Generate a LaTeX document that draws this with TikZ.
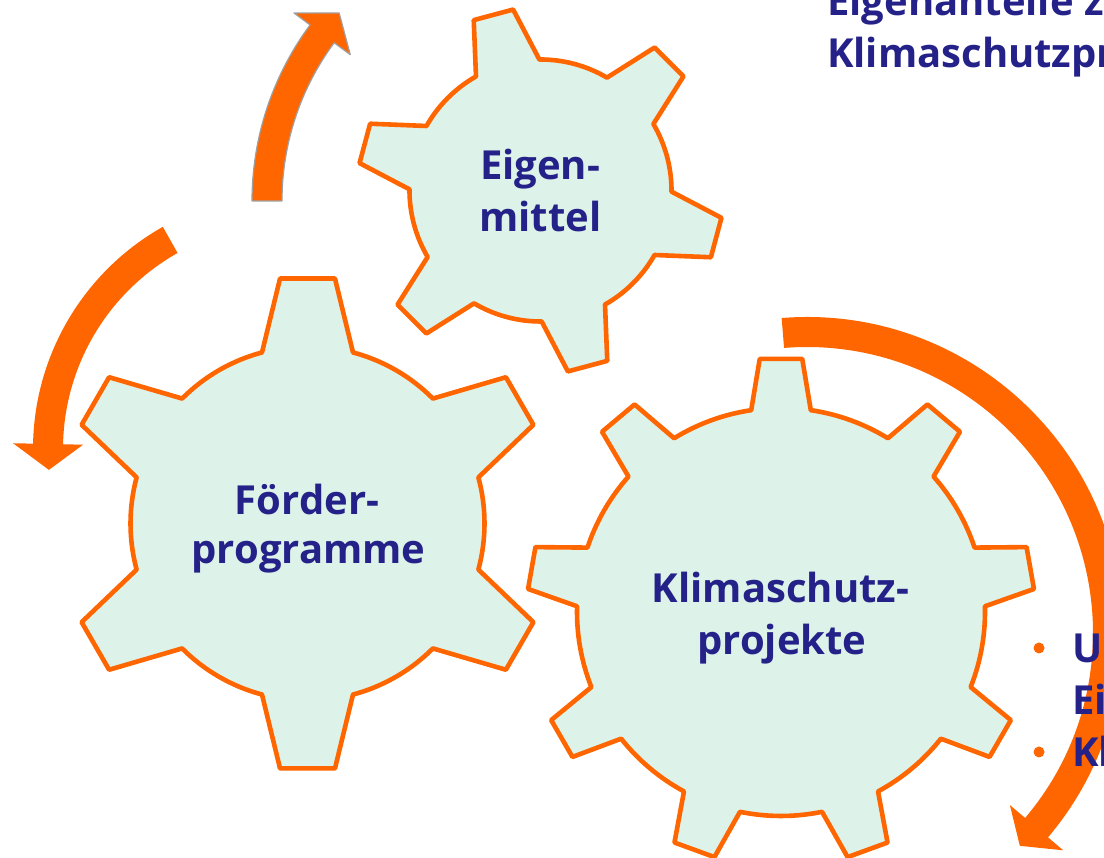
\documentclass[tikz,border=0pt]{standalone}
\usepackage{fontspec}
\setmainfont{Open Sans}
\definecolor{gearorange}{RGB}{255,102,0}
\definecolor{gearfill}{RGB}{221,242,232}
\definecolor{textblue}{RGB}{36,33,137}
\definecolor{arrowedge}{RGB}{160,160,160}
\newcommand{\mygear}[8]{%
  \begin{scope}[shift={(#1,#2)}]
  \pgfmathsetmacro\gstep{360/#3}
  \draw[gearshape] ({#4-#7}:#5)
    \foreach \k in {1,...,#3}{
      -- ({#4+(\k-1)*\gstep-#8}:#6) -- ({#4+(\k-1)*\gstep+#8}:#6)
      -- ({#4+(\k-1)*\gstep+#7}:#5)
      arc[start angle={#4+(\k-1)*\gstep+#7}, end angle={#4+\k*\gstep-#7}, radius=#5]
    } -- cycle;
  \end{scope}}
\newcommand{\myarrow}[7]{%
  \begin{scope}[shift={(#1,#2)}]
  \path[#7] ({#4}:{#3+15}) arc[start angle=#4, end angle=#5, radius=#3+15]
    -- ({#5}:{#3+35}) -- ({#6}:{#3}) -- ({#5}:{#3-35}) -- ({#5}:{#3-15})
    arc[start angle=#5, end angle=#4, radius=#3-15] -- cycle;
  \end{scope}}
\tikzset{
  gearshape/.style={draw=gearorange, fill=gearfill, line width=4.6pt, line join=round},
  arrowbody/.style={fill=gearorange},
  arrowlined/.style={fill=gearorange, draw=arrowedge, line width=1.2pt, line join=round},
  geartext/.style={text=textblue, inner sep=0pt, anchor=base,
    font=\fontsize{40}{52}\selectfont\bfseries},
  sidetext/.style={text=textblue, inner sep=0pt, anchor=base west,
    font=\fontsize{40}{52}\selectfont\bfseries},
  bulletdot/.style={circle, fill=gearorange, inner sep=0pt, minimum size=11pt}
}
\begin{document}
\begin{tikzpicture}[x=1pt, y=1pt]
\useasboundingbox (0,0) rectangle (1104,858);
\clip (0,0) rectangle (1104,858);
% arrows
\myarrow{548}{657}{281}{180}{143.5}{138}{arrowlined}
\myarrow{288}{409}{240}{119.4}{178.8}{185}{arrowbody}
\myarrow{807}{225}{301}{94.6}{-40.3}{-45}{arrowbody}
% gears
\mygear{540.5}{667.5}{6}{105}{131}{183}{14.5}{6.4}
\mygear{307.5}{334.5}{6}{90}{177}{246.5}{14.9}{6.4}
\mygear{781}{246}{9}{90}{204}{254}{8.4}{4.8}
% gear texts
\node[geartext] (eig1) at (540,678) {Eigen-};
\node[geartext] (eig2) at (540.5,626) {mittel};
\node[geartext] (foe1) at (307,343) {Förder-};
\node[geartext] (foe2) at (308.5,294) {programme};
\node[geartext] (kli1) at (780.5,255) {Klimaschutz-};
\node[geartext] (kli2) at (782,203) {projekte};
% side texts
\node[sidetext] (top1) at (827,842) {Eigenanteile zu};
\node[sidetext] (top2) at (827,790) {Klimaschutzpr};
\node[bulletdot] (b1) at (1039,210) {};
\node[bulletdot] (b2) at (1039,106) {};
\node[sidetext] (bl1) at (1072,195) {Ur};
\node[sidetext] (bl2) at (1072,143) {Ei};
\node[sidetext] (bl3) at (1072,91) {Kl};
\end{tikzpicture}
\end{document}
